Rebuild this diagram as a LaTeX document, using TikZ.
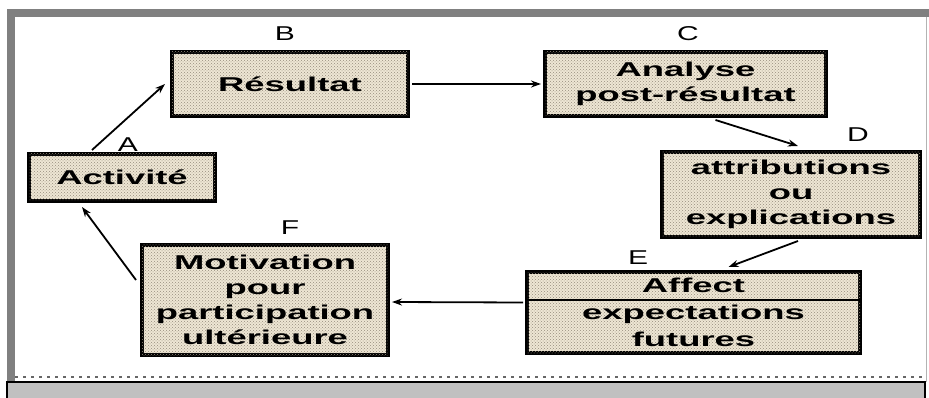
\documentclass[tikz,border=0pt]{standalone}
\usepackage{fontspec}
\usetikzlibrary{patterns,arrows.meta}
\newfontfamily\boxfont{Liberation Sans Bold}[FakeStretch=1.82]
\newfontfamily\letfont{Liberation Sans}[FakeStretch=1.5]
\definecolor{framegray}{RGB}{128,128,128}
\definecolor{boxfill}{RGB}{238,230,212}
\definecolor{dotc}{RGB}{150,140,125}
\definecolor{barfill}{RGB}{192,192,192}
\tikzset{
  box/.style={draw=black, line width=4pt, align=center, inner sep=0pt,
    font=\boxfont\fontsize{20}{25}\selectfont,
    preaction={fill=boxfill},
    postaction={pattern=crosshatch dots, pattern color=dotc}},
  lab/.style={font=\letfont\fontsize{20}{22}\selectfont, inner sep=0pt},
  arr/.style={line width=1.8pt, -{Stealth[length=10pt,width=7pt]}},
}
\begin{document}
\begin{tikzpicture}[x=1pt,y=-1pt]
\useasboundingbox (0,0) rectangle (929,398);
% frame
\fill[white] (0,0) rectangle (929,398);
\fill[framegray] (7,9) rectangle (929,17);
\fill[framegray] (7,9) rectangle (15,382);
\draw[framegray!60, line width=1pt] (926.5,17) -- (926.5,382);
\draw[gray!80!black, line width=1.5pt, dash pattern=on 3pt off 5pt] (15,377) -- (925,377);
\filldraw[fill=barfill, draw=black, line width=1.5pt] (7,382) rectangle (925,400);
% boxes
\node[box, minimum width=186pt, minimum height=47pt] (act) at (122,177.5) {Activit\'e};
\node[box, minimum width=236pt, minimum height=64pt] (res) at (290,84) {R\'esultat};
\node[box, minimum width=281pt, minimum height=64pt] (ana) at (685.5,84) {Analyse\\post-r\'esultat};
\node[box, minimum width=258pt, minimum height=85pt] (att) at (791,194.5) {attributions\\ou\\explications};
\node[box, minimum width=333pt, minimum height=81pt, font=\boxfont\fontsize{20}{27}\selectfont] (aff) at (693.5,312.5) {Affect\\expectations\\futures};
\node[box, minimum width=246pt, minimum height=110pt] (mot) at (265,300) {Motivation\\pour\\participation\\ult\'erieure};
\draw[line width=1.8pt] ([yshift=-30pt]aff.north west) -- ([yshift=-30pt]aff.north east);
% letters
\node[lab] (la) at (128,145) {A};
\node[lab] (lb) at (285,34) {B};
\node[lab] (lc) at (688,34) {C};
\node[lab] (ld) at (858,135) {D};
\node[lab] (le) at (638,258) {E};
\node[lab] (lf) at (290,228) {F};
% arrows
\draw[arr] ([xshift=65pt,yshift=2pt]act.north west) -- ([xshift=-5pt]res.west);
\draw[arr] ([xshift=2pt]res.east) -- ([xshift=-2pt]ana.west);
\draw[arr] ([xshift=30pt,yshift=-2pt]ana.south) -- ([xshift=7pt,yshift=4pt]att.north);
\draw[arr] ([xshift=7pt,yshift=-2pt]att.south) -- ([xshift=35pt,yshift=3pt]aff.north);
\draw[arr] ([xshift=-2pt,yshift=10pt]aff.west) -- ([xshift=2pt,yshift=-2pt]mot.east);
\draw[arr] ([xshift=-4pt,yshift=-37pt]mot.north west) -- ([xshift=55pt,yshift=-4pt]act.south west);
\end{tikzpicture}
\end{document}
